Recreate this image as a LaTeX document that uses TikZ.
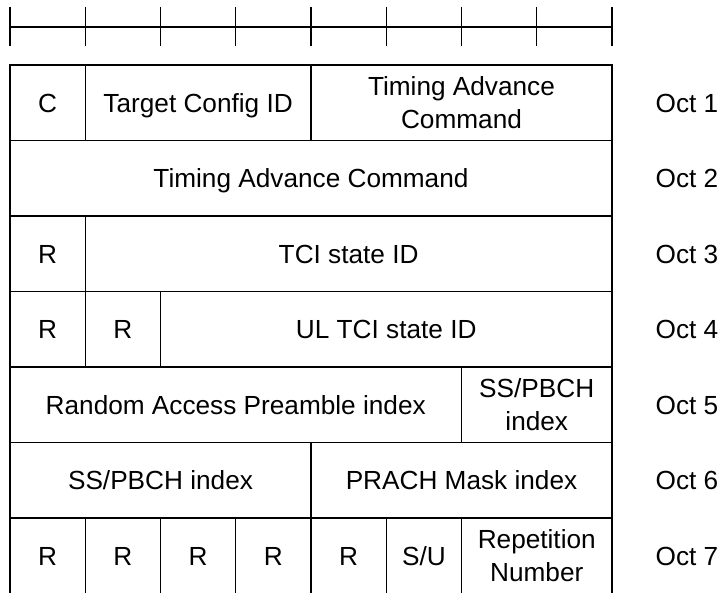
\documentclass[tikz,border=0pt]{standalone}
\usepackage{fontspec}
\setmainfont{Liberation Sans}
\newcommand\cx[1]{10+75.25*(#1)}
\newcommand\ry[1]{65+75.5*(#1)}
\newcommand\cellbox[5]{%
  \draw[cellline] ({\cx{#1}},{\ry{#3}}) rectangle ({\cx{#2}},{\ry{#3+1}});
  \node[lbl] (#5) at ({\cx{(#1+#2)/2}},{\ry{#3+0.5}}) {#4};}
\newcommand\twocell[5]{%
  \draw[cellline] ({\cx{#1}},{\ry{#3}}) rectangle ({\cx{#2}},{\ry{#3+1}});
  \node[lbltwo] (#5) at ({\cx{(#1+#2)/2}},{\ry{#3+0.5}}) {#4};}
\begin{document}
\begin{tikzpicture}[x=1pt,y=-1pt,
  cellline/.style={line width=1.3pt, black},
  ruleline/.style={line width=1.3pt, black},
  lbl/.style={inner sep=0pt, font=\fontsize{26.2pt}{32.5pt}\selectfont, text height=18.8pt, text depth=0pt},
  lbltwo/.style={inner sep=0pt, align=center, font=\fontsize{26.2pt}{32.5pt}\selectfont},
  octlbl/.style={inner sep=0pt, font=\fontsize{26.2pt}{32.5pt}\selectfont, text height=18.8pt, text depth=0pt}]
\useasboundingbox (0,0) rectangle (722,593);
\clip (0,0) rectangle (722,593);
\fill[white] (0,0) rectangle (722,593);
% ruler
\coordinate (rl) at (10,27);
\coordinate (rr) at (612,27);
\draw[ruleline] (rl) -- (rr);
\foreach \i in {0,...,8} {\draw[ruleline] ({\cx{\i}},7) -- ({\cx{\i}},46);}
% row 1
\cellbox{0}{1}{0}{C}{c1}
\cellbox{1}{4}{0}{Target Config ID}{tcid}
\twocell{4}{8}{0}{Timing Advance\\Command}{tac1}
% row 2
\cellbox{0}{8}{1}{Timing Advance Command}{tac2}
% row 3
\cellbox{0}{1}{2}{R}{r3a}
\cellbox{1}{8}{2}{TCI state ID}{tci}
% row 4
\cellbox{0}{1}{3}{R}{r4a}
\cellbox{1}{2}{3}{R}{r4b}
\cellbox{2}{8}{3}{UL TCI state ID}{ultci}
% row 5
\cellbox{0}{6}{4}{Random Access Preamble index}{rapi}
\twocell{6}{8}{4}{SS/PBCH\\index}{ssb5}
% row 6
\cellbox{0}{4}{5}{SS/PBCH index}{ssb6}
\cellbox{4}{8}{5}{PRACH Mask index}{prach}
% row 7
\cellbox{0}{1}{6}{R}{r7a}
\cellbox{1}{2}{6}{R}{r7b}
\cellbox{2}{3}{6}{R}{r7c}
\cellbox{3}{4}{6}{R}{r7d}
\cellbox{4}{5}{6}{R}{r7e}
\cellbox{5}{6}{6}{S/U}{su}
\twocell{6}{8}{6}{Repetition\\Number}{rep}
% octet labels
\foreach \k in {1,...,7} {\node[octlbl] (oct\k) at (687,{\ry{\k-0.5}}) {Oct \k};}
\end{tikzpicture}
\end{document}
